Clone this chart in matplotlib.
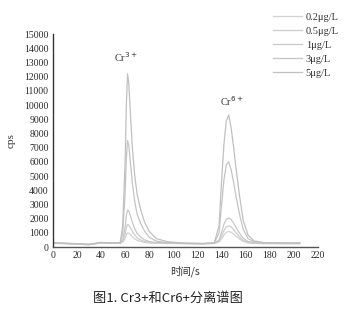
import matplotlib
matplotlib.use("Agg")
import matplotlib.pyplot as plt

# retention time (s) sampled along the chromatogram
t = [0, 10, 20, 30, 40, 50, 56, 58, 60, 61, 62, 63, 64, 66, 68, 70, 73, 76, 80, 86, 95,
     110, 125, 134, 138, 140, 142, 144, 146, 148, 150, 152, 155, 158, 162, 167, 175, 190, 205]

labels = ["0.2μg/L", "0.5μg/L", "1μg/L", "3μg/L", "5μg/L"]

cps_02 = [260, 240, 200, 170, 290, 260, 280, 340, 620, 880, 1000, 980, 900, 720, 580, 470, 390, 330, 290, 270, 255,
          240, 220, 260, 360, 580, 850, 1040, 1100, 1040, 920, 770, 570, 400, 300, 265, 245, 240, 240]
cps_05 = [270, 250, 210, 175, 300, 270, 290, 400, 900, 1350, 1600, 1570, 1420, 1100, 850, 650, 500, 400, 330, 290, 270,
          250, 230, 270, 420, 750, 1150, 1420, 1500, 1420, 1240, 1020, 720, 480, 330, 285, 260, 250, 250]
cps_1 = [280, 260, 220, 180, 310, 280, 300, 500, 1400, 2200, 2600, 2550, 2300, 1750, 1300, 950, 700, 520, 390, 320, 290,
         260, 240, 280, 500, 1000, 1600, 1950, 2050, 1950, 1700, 1400, 980, 620, 400, 310, 270, 260, 260]
cps_3 = [290, 270, 230, 190, 320, 290, 310, 1000, 3800, 6200, 7500, 7200, 6300, 4500, 3200, 2300, 1650, 1150, 700, 420, 310,
         270, 250, 290, 1000, 2900, 4700, 5800, 6000, 5450, 4600, 3600, 2300, 1250, 600, 370, 300, 290, 280]
cps_5 = [300, 280, 240, 200, 330, 300, 320, 1500, 6000, 10000, 12200, 11600, 10000, 7000, 5000, 3700, 2600, 1800, 1100, 600, 380,
         280, 260, 300, 1500, 4500, 7200, 8900, 9300, 8400, 7100, 5600, 3600, 1900, 850, 440, 320, 300, 290]

series = [cps_02, cps_05, cps_1, cps_3, cps_5]
colors = ["#d2d2d2", "#cdcdcd", "#c8c8c8", "#c4c4c4", "#c0c0c0"]

serif = "Liberation Serif"
cjk = ["Noto Sans CJK SC", "DejaVu Sans"]

fig = plt.figure(figsize=(3.62, 3.12), dpi=100)
ax = fig.add_axes([0.146, 0.208, 0.732, 0.683])

for ys, c, lab in zip(series, colors, labels):
    ax.plot(t, ys, color=c, lw=0.9, label=lab)

ax.set_xlim(0, 220)
ax.set_ylim(0, 15000)
ax.set_xticks(range(0, 221, 20))
ax.set_yticks(range(0, 15001, 1000))
ax.tick_params(length=0, labelsize=7, pad=3, colors="#2a2a2a")
for lbl in ax.get_xticklabels() + ax.get_yticklabels():
    lbl.set_family(serif)

for s in ["top", "right"]:
    ax.spines[s].set_visible(False)
ax.spines["left"].set_color("#333333")
ax.spines["bottom"].set_color("#555555")
ax.spines["left"].set_linewidth(1.0)
ax.spines["bottom"].set_linewidth(1.0)

ax.set_ylabel("cps", family=serif, fontsize=8, color="#333333", labelpad=6)
ax.set_xlabel("时间/s", family=cjk, fontsize=7.5, color="#333333", labelpad=4)

ax.text(61, 12900, "Cr$^{3+}$", family=serif, fontsize=7.5, ha="center", va="bottom", color="#333333")
ax.text(149, 9800, "Cr$^{6+}$", family=serif, fontsize=7.5, ha="center", va="bottom", color="#333333")

leg = fig.legend(loc="upper left", bbox_to_anchor=(0.728, 0.99), frameon=False,
                 prop={"family": serif, "size": 7.5}, handlelength=2.8, handletextpad=0.35,
                 labelspacing=0.45, labelcolor="#333333")

fig.text(0.465, 0.045, "图1. Cr3+和Cr6+分离谱图", family=cjk, fontsize=9.5, ha="center", va="center", color="#222222")

fig.savefig("out.png", dpi=100)
